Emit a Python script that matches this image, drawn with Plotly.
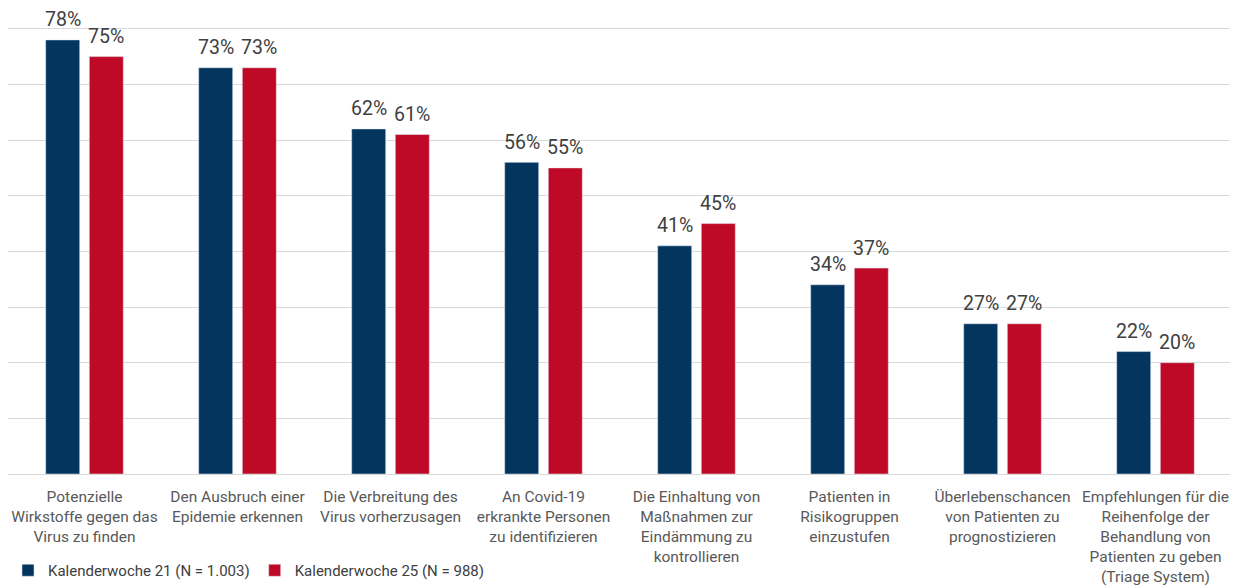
import plotly.graph_objects as go

categories = [
    "Potenzielle<br>Wirkstoffe gegen das<br>Virus zu finden",
    "Den Ausbruch einer<br>Epidemie erkennen",
    "Die Verbreitung des<br>Virus vorherzusagen",
    "An Covid-19<br>erkrankte Personen<br>zu identifizieren",
    "Die Einhaltung von<br>Maßnahmen zur<br>Eindämmung zu<br>kontrollieren",
    "Patienten in<br>Risikogruppen<br>einzustufen",
    "Überlebenschancen<br>von Patienten zu<br>prognostizieren",
    "Empfehlungen für die<br>Reihenfolge der<br>Behandlung von<br>Patienten zu geben<br>(Triage System)",
]
kw21 = [78, 73, 62, 56, 41, 34, 27, 22]
kw25 = [75, 73, 61, 55, 45, 37, 27, 20]
series_names = ["Kalenderwoche 21 (N = 1.003)", "Kalenderwoche 25 (N = 988)"]
colors = ["#03355F", "#BF0A27"]

fig = go.Figure()
for name, vals, color in zip(series_names, [kw21, kw25], colors):
    fig.add_trace(go.Bar(x=categories, y=vals, name=name, marker_color=color))

# value labels above the bars
for vals, shift in [(kw21, -21.75), (kw25, 21.75)]:
    for cat, v in zip(categories, vals):
        fig.add_annotation(x=cat, y=v, text=f"{v}%", showarrow=False,
                           xshift=shift, yshift=20, yanchor="middle",
                           font=dict(size=19.5, color="#404040", family="Roboto"))

fig.update_layout(
    width=1230, height=579,
    margin=dict(l=0, r=6, t=18, b=113),
    paper_bgcolor="white", plot_bgcolor="white",
    barmode="group", bargap=0.43, bargroupgap=0.22,
    font=dict(family="Roboto", color="#595959", size=15),
    showlegend=True,
    legend=dict(orientation="h", xref="container", yref="container",
                x=-0.0228, xanchor="left", y=-0.0138, yanchor="bottom",
                font=dict(size=15, color="#404040"),
                itemwidth=30, tracegroupgap=0, traceorder="normal"),
    yaxis=dict(range=[0, 80.5], dtick=10, showticklabels=False, showgrid=True,
               gridcolor="#D9D9D9", gridwidth=1, zeroline=False, automargin=False),
    xaxis=dict(showline=True, linecolor="#D9D9D9", linewidth=1, automargin=False,
               tickfont=dict(size=15.5, color="#595959"), ticklabelstandoff=8),
)
fig.write_html("out.html")
